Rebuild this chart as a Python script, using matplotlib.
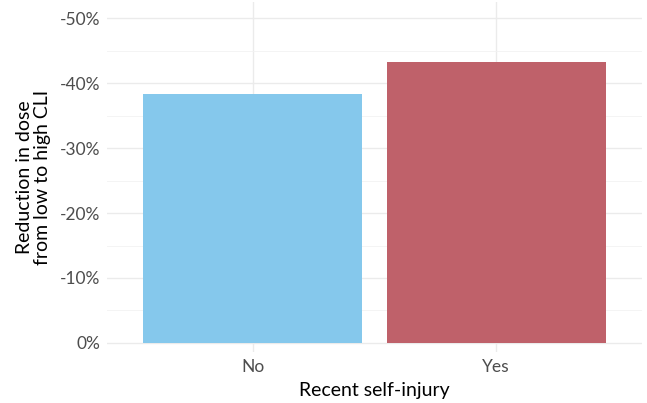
import matplotlib
matplotlib.use("Agg")
import matplotlib.pyplot as plt
from matplotlib.ticker import FuncFormatter, MultipleLocator

categories = ["No", "Yes"]
values = [-38.3, -43.2]
colors = ["#85C8EC", "#BF616A"]
yticks = [0, -10, -20, -30, -40, -50]

plt.rcParams['font.family'] = ['Lato', 'DejaVu Sans']

fig = plt.figure(figsize=(6.47, 4.03), dpi=100)
ax = fig.add_axes([107/647, 51/403, 535/647, 350/403])

x = list(range(1, len(categories) + 1))
ax.bar(x, values, width=0.9, color=colors, zorder=3)

ax.set_xlim(0.4, 2.6)
ax.set_ylim(1.4, -52.5)
ax.set_xticks(x)
ax.set_xticklabels(categories)
ax.set_yticks(yticks)
ax.yaxis.set_minor_locator(MultipleLocator(5))
ax.yaxis.set_major_formatter(FuncFormatter(lambda v, p: f"{int(round(v))}%"))

ax.grid(which='major', axis='both', color='#EBEBEB', linewidth=1.0, zorder=0)
ax.grid(which='minor', axis='y', color='#F2F2F2', linewidth=0.6, zorder=0)
for s in ax.spines.values():
    s.set_visible(False)
ax.tick_params(axis='both', which='both', length=0, labelsize=12.5, labelcolor='#4D4D4D')
ax.tick_params(axis='x', pad=5)
ax.tick_params(axis='y', pad=5)

ax.set_xlabel("Recent self-injury", fontsize=14, color='black', labelpad=5)
ax.set_ylabel("Reduction in dose\nfrom low to high CLI", fontsize=14, color='black', labelpad=6, linespacing=1.1)

fig.savefig("out.png", dpi=100)
